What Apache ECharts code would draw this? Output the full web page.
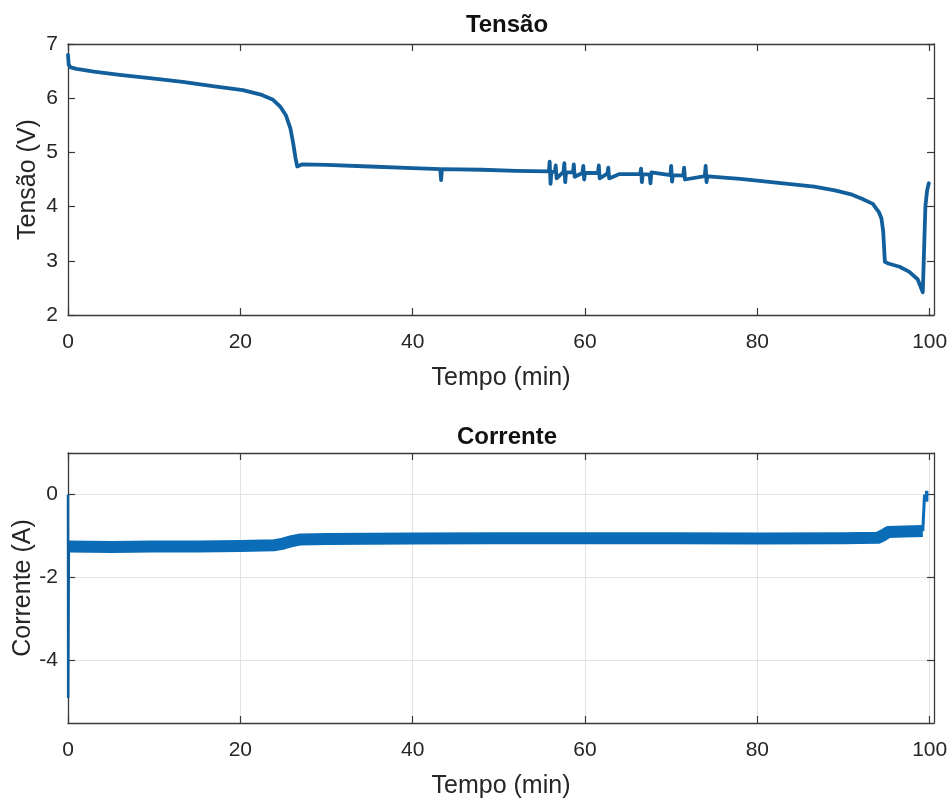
<!DOCTYPE html>
<html>
<head>
<meta charset="utf-8">
<script src="https://cdn.jsdelivr.net/npm/echarts@6/dist/echarts.min.js"></script>
<style>html,body{margin:0;padding:0;background:#fff}#c{width:951px;height:798px}</style>
</head>
<body>
<div id="c"></div>
<script>
// ---- data ----
const xTicks = [0, 20, 40, 60, 80, 100];
const voltTicks = [2, 3, 4, 5, 6, 7];
const currTicks = [-4, -2, 0];

const voltTime = [0, 0.08, 0.3, 1, 3, 6, 10, 13.3, 17, 20.3, 22.5, 23.8, 24.6, 25.3, 25.8, 26.1, 26.4, 26.6, 26.8, 27.2, 30, 35, 40, 43.2, 43.3, 43.4, 48, 52,
  55.8, 55.9, 56.0, 56.1, 56.5, 56.6, 56.7, 57.5, 57.6, 57.7, 57.8, 58.6, 58.7, 58.8, 59.7, 59.8, 59.9, 60.0, 61.5, 61.6, 61.7, 62.6, 62.7, 62.8, 64,
  66.4, 66.5, 66.6, 66.7, 67.5, 67.6, 67.7, 69.9, 70.0, 70.1, 70.2, 71.4, 71.5, 71.6, 73.9, 74.0, 74.1, 74.2,
  75, 78, 80, 83, 86.6, 89, 91, 92.2, 93.4, 94.1, 94.4, 94.6, 94.8, 95.2, 96.5, 97.6, 98.6, 99.2, 99.3, 99.5, 99.7, 99.9];
const voltValue = [6.8, 6.62, 6.57, 6.54, 6.49, 6.43, 6.36, 6.30, 6.22, 6.15, 6.06, 5.97, 5.85, 5.68, 5.45, 5.2, 4.9, 4.74, 4.76, 4.78, 4.77, 4.74, 4.71, 4.69, 4.49, 4.69, 4.68, 4.66,
  4.65, 4.83, 4.42, 4.64, 4.64, 4.76, 4.52, 4.64, 4.80, 4.45, 4.63, 4.63, 4.78, 4.55, 4.62, 4.75, 4.50, 4.62, 4.62, 4.76, 4.52, 4.61, 4.72, 4.52, 4.60,
  4.60, 4.70, 4.45, 4.60, 4.59, 4.43, 4.63, 4.58, 4.75, 4.46, 4.58, 4.57, 4.72, 4.50, 4.56, 4.75, 4.45, 4.56,
  4.55, 4.51, 4.48, 4.43, 4.37, 4.30, 4.22, 4.14, 4.05, 3.90, 3.78, 3.55, 2.98, 2.95, 2.89, 2.80, 2.66, 2.42, 2.45, 4.00, 4.30, 4.43];

const currSpikeTime = [0, 0.02, 0.1];
const currSpikeValue = [0, -4.9, -1.25];
const currBandTime = [0.1, 5, 10, 15, 20, 24, 25, 26, 27, 30, 40, 50, 60, 70, 80, 90, 94, 94.6, 95.2, 97, 99.2];
const currBandValue = [-1.25, -1.26, -1.25, -1.25, -1.24, -1.22, -1.18, -1.12, -1.08, -1.07, -1.06, -1.05, -1.05, -1.05, -1.06, -1.05, -1.04, -0.98, -0.90, -0.89, -0.88];
const currJumpTime = [99.2, 99.4];
const currJumpValue = [-0.88, 0];
const currTopTime = [99.45, 99.85];
const currTopValue = [-0.04, -0.04];

// ---- chart ----
const pairs = (t, v) => t.map((x, i) => [x, v[i]]);
const FONT = 'Liberation Sans, Arial, sans-serif';
const TXT = '#262626';
const AX = '#3a3a3a';

function xAx(grid, pos, labels, split) {
  return {
    type: 'value', gridIndex: grid, position: pos, min: 0, max: 100.5,
    name: labels ? 'Tempo (min)' : '', nameLocation: 'middle', nameGap: 51, nameMoveOverlap: false,
    nameTextStyle: { color: TXT, fontSize: 25, fontFamily: FONT },
    axisLine: { show: true, onZero: false, lineStyle: { color: AX, width: 1.3 } },
    axisTick: { show: true, inside: true, length: 7, customValues: xTicks, lineStyle: { color: AX, width: 1.2 } },
    axisLabel: { show: labels, customValues: xTicks, margin: 17, color: TXT, fontSize: 21, fontFamily: FONT },
    splitLine: { show: split, lineStyle: { color: '#e3e3e3', width: 1 } }
  };
}
function yAx(grid, pos, labels, split, min, max, ticks, name, gap) {
  return {
    type: 'value', gridIndex: grid, position: pos, min: min, max: max,
    name: labels ? name : '', nameLocation: 'middle', nameGap: gap, nameMoveOverlap: false,
    nameTextStyle: { color: TXT, fontSize: 25, fontFamily: FONT },
    axisLine: { show: true, onZero: false, lineStyle: { color: AX, width: 1.3 } },
    axisTick: { show: true, inside: true, length: 7, customValues: ticks, lineStyle: { color: AX, width: 1.2 } },
    axisLabel: { show: labels, customValues: ticks, margin: 10, color: TXT, fontSize: 21, fontFamily: FONT },
    splitLine: { show: split, lineStyle: { color: '#e3e3e3', width: 1 } }
  };
}

const chart = echarts.init(document.getElementById('c'));
chart.setOption({
  animation: false,
  backgroundColor: '#fff',
  title: [
    { text: 'Tensão', left: 502, top: 8, textAlign: 'center', textStyle: { color: '#111', fontSize: 24, fontWeight: 'bold', fontFamily: FONT } },
    { text: 'Corrente', left: 502, top: 420, textAlign: 'center', textStyle: { color: '#111', fontSize: 24, fontWeight: 'bold', fontFamily: FONT } }
  ],
  grid: [
    { left: 68, top: 44, width: 866, height: 271, containLabel: false, outerBoundsMode: 'none' },
    { left: 68, top: 453, width: 866, height: 270, containLabel: false, outerBoundsMode: 'none' }
  ],
  xAxis: [xAx(0, 'bottom', true, false), xAx(0, 'top', false, false), xAx(1, 'bottom', true, true), xAx(1, 'top', false, false)],
  yAxis: [
    yAx(0, 'left', true, false, 2, 7, voltTicks, 'Tensão (V)', 27),
    yAx(0, 'right', false, false, 2, 7, voltTicks, '', 0),
    yAx(1, 'left', true, true, -5.5, 1, currTicks, 'Corrente (A)', 32),
    yAx(1, 'right', false, false, -5.5, 1, currTicks, '', 0)
  ],
  series: [
    { type: 'line', xAxisIndex: 0, yAxisIndex: 0, data: pairs(voltTime, voltValue), showSymbol: false, lineStyle: { color: '#135f9b', width: 3.8, join: 'round', cap: 'round' } },
    { type: 'line', xAxisIndex: 2, yAxisIndex: 2, data: pairs(currBandTime, currBandValue), showSymbol: false, lineStyle: { color: '#0b6db8', width: 12, join: 'round' } },
    { type: 'line', xAxisIndex: 2, yAxisIndex: 2, data: pairs(currSpikeTime, currSpikeValue), showSymbol: false, lineStyle: { color: '#0f5f9e', width: 2.5 } },
    { type: 'line', xAxisIndex: 2, yAxisIndex: 2, data: pairs(currJumpTime, currJumpValue), showSymbol: false, lineStyle: { color: '#0b6db8', width: 3 } },
    { type: 'line', xAxisIndex: 2, yAxisIndex: 2, data: pairs(currTopTime, currTopValue), showSymbol: false, lineStyle: { color: '#0b6db8', width: 11 } }
  ]
});
</script>
</body>
</html>
